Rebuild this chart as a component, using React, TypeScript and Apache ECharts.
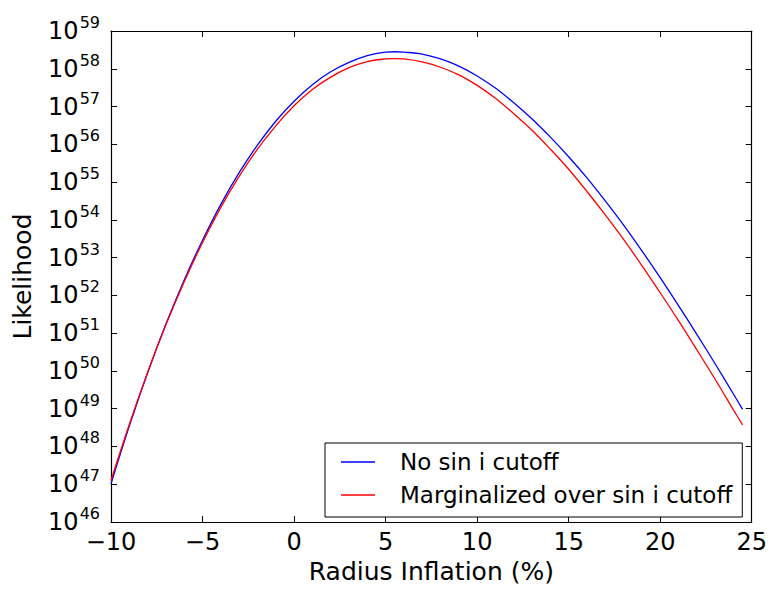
import React, { useEffect, useRef } from "react";
import * as echarts from "echarts";

// Radius inflation (%) sample positions
const xValues = [-10, -9, -8, -7, -6, -5, -4, -3, -2, -1, 0, 1, 2, 3, 4, 5, 5.5, 6, 7, 8, 9, 10, 11, 12, 13, 14, 15, 16, 17, 18, 19, 20, 21, 22, 23, 24, 24.5];
// log10(Likelihood)
const noCutoffExp = [47.01, 48.54, 49.95, 51.24, 52.41, 53.46, 54.41, 55.25, 55.98, 56.61, 57.14, 57.58, 57.92, 58.17, 58.35, 58.44, 58.45, 58.44, 58.39, 58.26, 58.07, 57.81, 57.49, 57.1, 56.67, 56.19, 55.67, 55.11, 54.5, 53.86, 53.18, 52.47, 51.73, 50.97, 50.19, 49.39, 48.98];
const marginalizedExp = [47.1, 48.58, 49.96, 51.22, 52.36, 53.4, 54.33, 55.15, 55.87, 56.49, 57.02, 57.45, 57.78, 58.03, 58.19, 58.26, 58.27, 58.26, 58.18, 58.04, 57.84, 57.56, 57.22, 56.81, 56.37, 55.87, 55.34, 54.75, 54.13, 53.48, 52.79, 52.07, 51.33, 50.56, 49.78, 48.97, 48.57];
const seriesNames = ["No sin i cutoff", "Marginalized over sin i cutoff"];
const xTicks = { min: -10, max: 25, interval: 5 };
const yExpRange = { min: 46, max: 59 };

const FONT = "DejaVu Sans";

export default function App() {
  const ref = useRef<HTMLDivElement>(null);
  useEffect(() => {
    if (!ref.current) return;
    const chart = echarts.init(ref.current, undefined, { renderer: "svg" });
    const toData = (exps: number[]) => xValues.map((x, i) => [x, Math.pow(10, exps[i])]);
    const yLabel = (v: number) => `{b|10}{s|${Math.round(Math.log10(v))}}`;
    const xLabel = (v: number) => String(v).replace("-", "\u2212");
    const axisLine = { show: true, onZero: false, lineStyle: { color: "#000", width: 1.2 } };
    const axisTick = { show: true, inside: true, length: 6, lineStyle: { color: "#000", width: 1 } };
    chart.setOption({
      animation: false,
      backgroundColor: "#fff",
      textStyle: { fontFamily: FONT },
      grid: { left: 111, right: 17, top: 31, bottom: 61 },
      legend: {
        orient: "vertical",
        left: 325,
        top: 443,
        padding: [7.5, 10, 10.5, 16],
        itemGap: 10,
        itemWidth: 34,
        itemHeight: 1.5,
        icon: "rect",
        borderColor: "#000",
        borderWidth: 1,
        backgroundColor: "#fff",
        borderRadius: 0,
        textStyle: { fontFamily: FONT, fontSize: 23, color: "#000", lineHeight: 23, padding: [0, 0, 0, 20] },
        data: seriesNames,
      },
      xAxis: [
        {
          type: "value",
          min: xTicks.min,
          max: xTicks.max,
          interval: xTicks.interval,
          position: "bottom",
          name: "Radius Inflation (%)",
          nameLocation: "middle",
          nameGap: 37,
          nameTextStyle: { fontFamily: FONT, fontSize: 25, color: "#000" },
          axisLine,
          axisTick,
          splitLine: { show: false },
          axisLabel: { fontFamily: FONT, fontSize: 24, color: "#000", margin: 8, formatter: xLabel },
        },
        {
          type: "value",
          min: xTicks.min,
          max: xTicks.max,
          interval: xTicks.interval,
          position: "top",
          axisLine,
          axisTick,
          splitLine: { show: false },
          axisLabel: { show: false },
        },
      ],
      yAxis: [
        {
          type: "log",
          logBase: 10,
          min: Math.pow(10, yExpRange.min),
          max: Math.pow(10, yExpRange.max),
          interval: 1,
          position: "left",
          name: "Likelihood",
          nameLocation: "middle",
          nameGap: 76,
          nameTextStyle: { fontFamily: FONT, fontSize: 25, color: "#000" },
          axisLine,
          axisTick,
          splitLine: { show: false },
          minorTick: { show: false },
          axisLabel: {
            margin: 11,
            formatter: yLabel,
            rich: {
              b: { fontFamily: FONT, fontSize: 24, lineHeight: 24, color: "#000" },
              s: { fontFamily: FONT, fontSize: 16, lineHeight: 16, color: "#000", padding: [0, 0, 17, 1] },
            },
          },
        },
        {
          type: "log",
          logBase: 10,
          min: Math.pow(10, yExpRange.min),
          max: Math.pow(10, yExpRange.max),
          interval: 1,
          position: "right",
          axisLine,
          axisTick,
          splitLine: { show: false },
          axisLabel: { show: false },
        },
      ],
      series: [
        {
          name: seriesNames[0],
          type: "line",
          data: toData(noCutoffExp),
          showSymbol: false,
          smooth: 0.35,
          lineStyle: { color: "#0000ff", width: 1.3 },
          itemStyle: { color: "#0000ff" },
        },
        {
          name: seriesNames[1],
          type: "line",
          data: toData(marginalizedExp),
          showSymbol: false,
          smooth: 0.35,
          lineStyle: { color: "#ff0000", width: 1.3 },
          itemStyle: { color: "#ff0000" },
        },
      ],
    });
    return () => chart.dispose();
  }, []);
  return <div ref={ref} style={{ position: "fixed", left: 0, top: 0, width: 770, height: 589 }} />;
}
